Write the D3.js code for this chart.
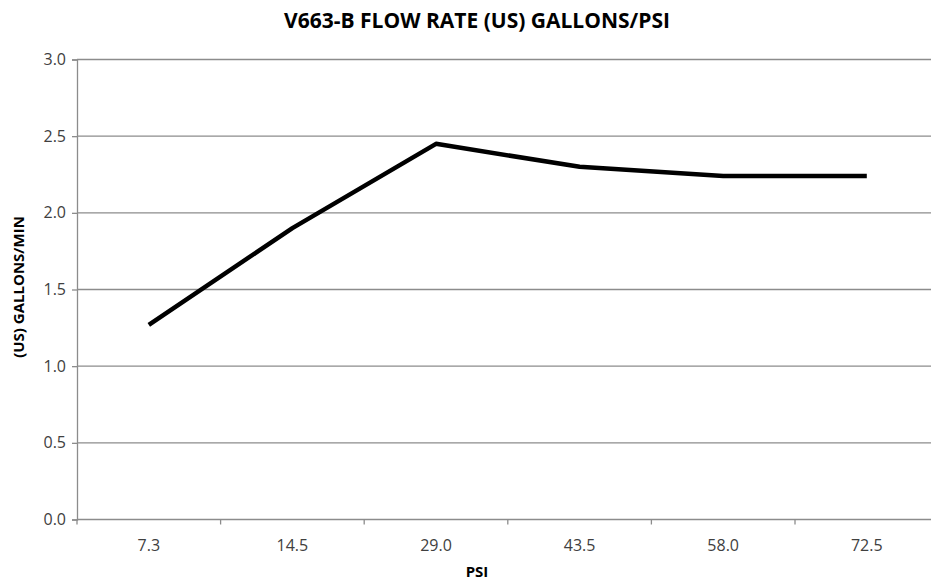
<!DOCTYPE html>
<meta charset="utf-8">
<script src="https://d3js.org/d3.v7.min.js"></script>
<style>
  body { margin: 0; background: #fff; }
  text { font-family: "Open Sans", "Noto Sans", sans-serif; }
</style>
<div id="my_dataviz"></div>
<script>
  // data
  var psiLabels = ["7.3", "14.5", "29.0", "43.5", "58.0", "72.5"];
  var flowValues = [1.27, 1.90, 2.45, 2.30, 2.24, 2.24];
  var yTicks = [0, 0.5, 1.0, 1.5, 2.0, 2.5, 3.0];

  var W = 931, H = 583;
  var margin = { top: 59.5, left: 77 },
    width = 861.6,   // plot runs past the right edge, as in the source
    height = 460;

  var svg = d3.select("#my_dataviz")
    .append("svg")
    .attr("width", W)
    .attr("height", H);

  var g = svg.append("g")
    .attr("transform", "translate(" + margin.left + "," + margin.top + ")");

  var x = d3.scaleBand().domain(psiLabels).range([0, width]);
  var y = d3.scaleLinear().domain([0, 3]).range([height, 0]);

  // gridlines
  g.selectAll(".grid")
    .data(yTicks.filter(function (d) { return d > 0; }))
    .enter().append("line")
    .attr("x1", 0).attr("x2", width)
    .attr("y1", function (d) { return y(d); })
    .attr("y2", function (d) { return y(d); })
    .attr("stroke", "#8c8c8c")
    .attr("stroke-width", 1.3);

  // y axis
  var yAxis = g.append("g")
    .call(d3.axisLeft(y).tickValues(yTicks).tickFormat(d3.format(".1f")).tickSize(5).tickPadding(6));
  yAxis.select(".domain").attr("stroke", "#8c8c8c").attr("stroke-width", 1.3);
  yAxis.selectAll(".tick line").attr("stroke", "#8c8c8c").attr("stroke-width", 1.3);
  yAxis.selectAll(".tick text")
    .attr("fill", "#404040")
    .style("font-size", "16px")
    .style("font-family", "'Open Sans', sans-serif");

  // x axis: ticks between categories
  var xAxis = g.append("g")
    .attr("transform", "translate(0," + height + ")");
  xAxis.append("line")
    .attr("x1", 0).attr("x2", width)
    .attr("stroke", "#8c8c8c").attr("stroke-width", 1.3);
  xAxis.selectAll(".xtick")
    .data(psiLabels)
    .enter().append("line")
    .attr("x1", function (d) { return x(d); })
    .attr("x2", function (d) { return x(d); })
    .attr("y1", 0).attr("y2", 5)
    .attr("stroke", "#8c8c8c").attr("stroke-width", 1.3);
  xAxis.selectAll(".xlabel")
    .data(psiLabels)
    .enter().append("text")
    .attr("x", function (d) { return x(d) + x.bandwidth() / 2; })
    .attr("y", 31)
    .attr("text-anchor", "middle")
    .attr("fill", "#404040")
    .style("font-size", "16px")
    .text(function (d) { return d; });

  // the line
  g.append("path")
    .datum(flowValues)
    .attr("fill", "none")
    .attr("stroke", "#000")
    .attr("stroke-width", 4.5)
    .attr("stroke-linejoin", "round")
    .attr("d", d3.line()
      .x(function (d, i) { return x(psiLabels[i]) + x.bandwidth() / 2; })
      .y(function (d) { return y(d); }));

  // title and axis titles
  svg.append("text")
    .attr("x", 477).attr("y", 28)
    .attr("text-anchor", "middle")
    .attr("fill", "#000")
    .style("font-size", "21px")
    .style("font-weight", "bold")
    .text("V663-B FLOW RATE (US) GALLONS/PSI");

  svg.append("text")
    .attr("x", 477).attr("y", 577)
    .attr("text-anchor", "middle")
    .attr("fill", "#000")
    .style("font-size", "15px")
    .style("font-weight", "bold")
    .text("PSI");

  svg.append("text")
    .attr("transform", "translate(24,287) rotate(-90)")
    .attr("text-anchor", "middle")
    .attr("fill", "#000")
    .style("font-size", "15px")
    .style("font-weight", "bold")
    .text("(US) GALLONS/MIN");
</script>
